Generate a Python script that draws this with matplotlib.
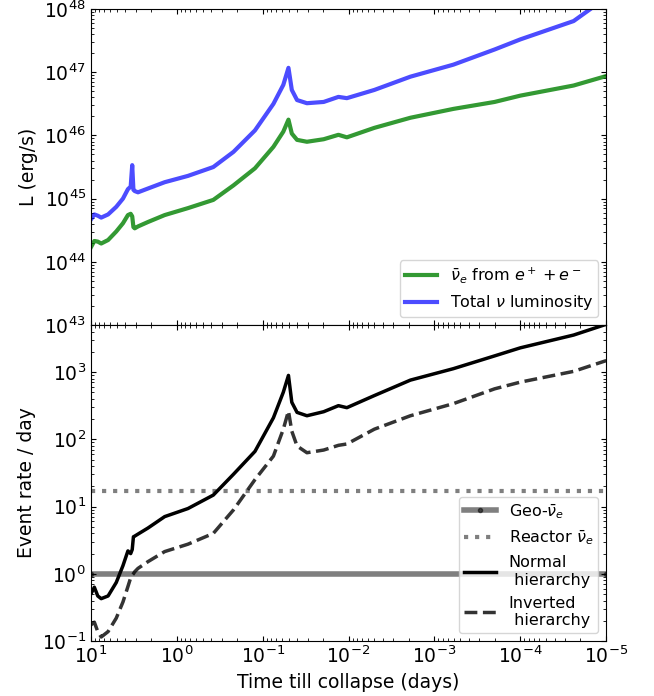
import numpy as np
import matplotlib.pyplot as plt

# log10 of time till collapse (days)
log_t = np.array([1.00, 0.96, 0.92, 0.88, 0.80, 0.705, 0.627, 0.569, 0.537, 0.519,
                  0.505, 0.49, 0.452, 0.336, 0.141, -0.13, -0.425, -0.66, -0.91, -1.125,
                  -1.24, -1.30, -1.339, -1.40, -1.515, -1.71, -1.882, -1.98, -2.3, -2.72,
                  -3.22, -3.7, -4.0, -4.62, -5.0])

# log10 luminosity (erg/s)
log_L_ee = np.array([44.23, 44.33, 44.32, 44.29, 44.345, 44.48, 44.61, 44.74, 44.76, 44.72,
                     44.55, 44.53, 44.56, 44.63, 44.74, 44.85, 44.98, 45.21, 45.48, 45.82,
                     46.06, 46.25, 46.03, 45.93, 45.90, 45.94, 46.01, 45.97, 46.12, 46.28,
                     46.42, 46.53, 46.63, 46.79, 46.94])
log_L_tot = np.array([44.67, 44.75, 44.73, 44.70, 44.75, 44.87, 45.00, 45.15, 45.19, 45.53,
                      45.14, 45.12, 45.10, 45.16, 45.26, 45.36, 45.50, 45.74, 46.08, 46.50,
                      46.80, 47.07, 46.72, 46.56, 46.51, 46.53, 46.61, 46.59, 46.72, 46.93,
                      47.12, 47.36, 47.52, 47.81, 48.18])

# log10 event rate per day
log_rate_nh = np.array([-0.30, -0.20, -0.33, -0.37, -0.33, -0.13, 0.12, 0.34, 0.30, 0.36,
                        0.55, 0.56, 0.59, 0.68, 0.85, 0.97, 1.17, 1.48, 1.82, 2.32,
                        2.70, 2.95, 2.55, 2.40, 2.35, 2.41, 2.50, 2.47, 2.65, 2.88,
                        3.05, 3.24, 3.36, 3.55, 3.71])
log_rate_ih = np.array([-0.76, -0.72, -0.86, -0.94, -0.86, -0.66, -0.42, -0.19, -0.06, -0.02,
                        0.00, 0.03, 0.08, 0.18, 0.33, 0.44, 0.60, 0.95, 1.40, 1.75,
                        2.15, 2.42, 2.12, 1.90, 1.80, 1.84, 1.91, 1.93, 2.15, 2.35,
                        2.53, 2.75, 2.85, 3.01, 3.17])

geo_rate = 1.0
reactor_rate = 17.0

t = 10**log_t
t_edges = [10, 1e-5]

plt.rcParams['font.size'] = 13.5

fig = plt.figure(figsize=(6.54, 6.96), dpi=100)
ax1 = fig.add_axes([0.139, 0.533, 0.788, 0.454])
ax2 = fig.add_axes([0.139, 0.079, 0.788, 0.454], sharex=ax1)

# luminosity panel
ax1.plot(t, 10**log_L_ee, color='g', alpha=0.8, lw=3,
         label=r'$\bar{\nu}_e$ from $e^+ + e^-$')
ax1.plot(t, 10**log_L_tot, color='b', alpha=0.7, lw=3,
         label=r'Total $\nu$ luminosity')
ax1.set_xscale('log')
ax1.set_yscale('log')
ax1.set_ylim(1e43, 1e48)
ax1.set_ylabel('L (erg/s)')
ax1.legend(loc='lower right', fontsize=11.5, borderpad=0.3)
plt.setp(ax1.get_xticklabels(), visible=False)

# event rate panel
ax2.plot(t_edges, [geo_rate, geo_rate], color='k', alpha=0.5, lw=4, marker='.',
         label=r'Geo-$\bar{\nu}_e$')
ax2.plot(t_edges, [reactor_rate, reactor_rate], color='k', alpha=0.5, lw=3, ls=':',
         label=r'Reactor $\bar{\nu}_e$')
ax2.plot(t, 10**log_rate_nh, color='k', lw=2.5, label='Normal\n hierarchy')
ax2.plot(t, 10**log_rate_ih, color='k', alpha=0.8, lw=2.5, ls='--',
         label='Inverted\n hierarchy')
ax2.set_yscale('log')
ax2.set_ylim(0.1, 5000)
ax2.set_xlim(10, 1e-5)
ax2.set_xlabel('Time till collapse (days)')
ax2.set_ylabel('Event rate / day')
ax2.legend(loc='lower right', fontsize=11.5, borderpad=0.3)

for ax in (ax1, ax2):
    ax.tick_params(which='both', direction='in', top=True, right=True)

fig.savefig('out.png', dpi=100)
